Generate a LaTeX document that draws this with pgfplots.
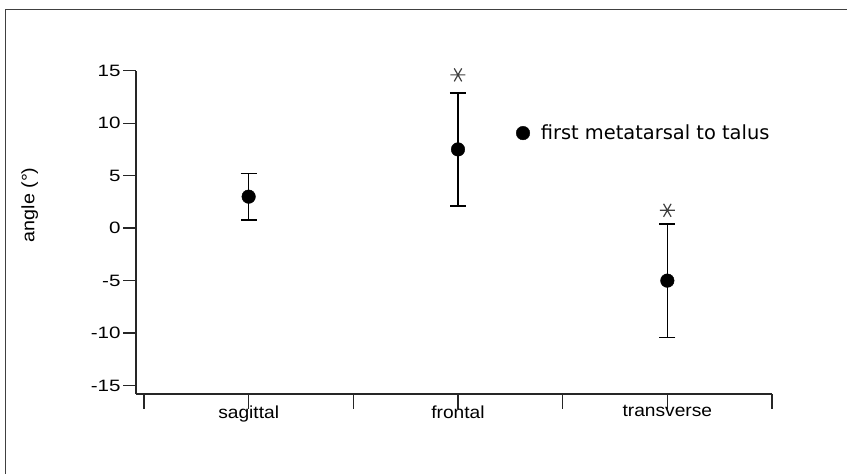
\documentclass[border=0pt]{standalone}
\usepackage{pgfplots}
\pgfplotsset{compat=1.18}
\usepackage{fontspec}
\setmainfont[FakeStretch=1.1]{Liberation Sans}
\newfontfamily\tickfont[FakeStretch=1.25]{Liberation Sans}
\newfontfamily\legfont{DejaVu Sans}
\begin{document}
\begin{tikzpicture}[x=1bp,y=1bp]
\useasboundingbox (0,0) rectangle (847,474);
\draw[black!75, line width=1bp] (5,0) -- (5,464) -- (847,464);
\begin{axis}[
  at={(136bp,80bp)}, anchor=south west,
  scale only axis, width=636bp, height=323.3bp,
  xmin=-0.538, xmax=2.5, ymin=-15.8, ymax=15,
  axis x line=bottom, axis y line=left,
  axis line style={-, line width=1.3bp, black!85},
  tick align=outside,
  major tick length=13bp,
  xtick={-0.5,0.5,1.5,2.5}, xticklabels={},
  extra x ticks={0,1,2},
  extra x tick labels={sagittal,frontal,transverse},
  extra x tick style={major tick length=0pt, xticklabel style={yshift=-8bp, font=\fontsize{17.5}{19}\selectfont}},
  xtick style={line width=1.3bp, black!85, /pgfplots/major tick length=15bp},
  ytick={-15,-10,-5,0,5,10,15},
  yticklabels={-15,-10,-5,0,5,10,15},
  ytick style={line width=1.3bp, black!85},
  yticklabel style={font=\tickfont\fontsize{16.5}{19}\selectfont, xshift=1bp},
  ylabel={angle (°)},
  ylabel style={font=\fontsize{18}{20}\selectfont, at={(axis description cs:-0.167,0.585)}, anchor=center},
  legend style={draw=none, fill=none, at={(axis description cs:0.5975,0.807)}, anchor=west, font=\legfont\fontsize{19.5}{21}\selectfont, inner sep=0pt},
  legend cell align=left,
  clip=false,
]
\addplot+[only marks, mark=*, mark size=6.8bp, black, mark options={fill=black},
  error bars/.cd, y dir=both, y explicit, error mark=|,
  error bar style={line width=1.6bp, black},
  error mark options={line width=1.6bp, mark size=8bp, black}]
  coordinates {
  (0,3.0) +- (0,2.2)
  (1,7.5) +- (0,5.4)
  (2,-5.0) +- (0,5.4)
};
\addlegendentry{\hspace{9bp}first metatarsal to talus}
\addplot[only marks, mark=asterisk, mark size=7.5bp, black!75, line width=1.2bp, mark options={rotate=90}, forget plot] coordinates {(1,14.6) (2,1.7)};
\end{axis}
\end{tikzpicture}
\end{document}
